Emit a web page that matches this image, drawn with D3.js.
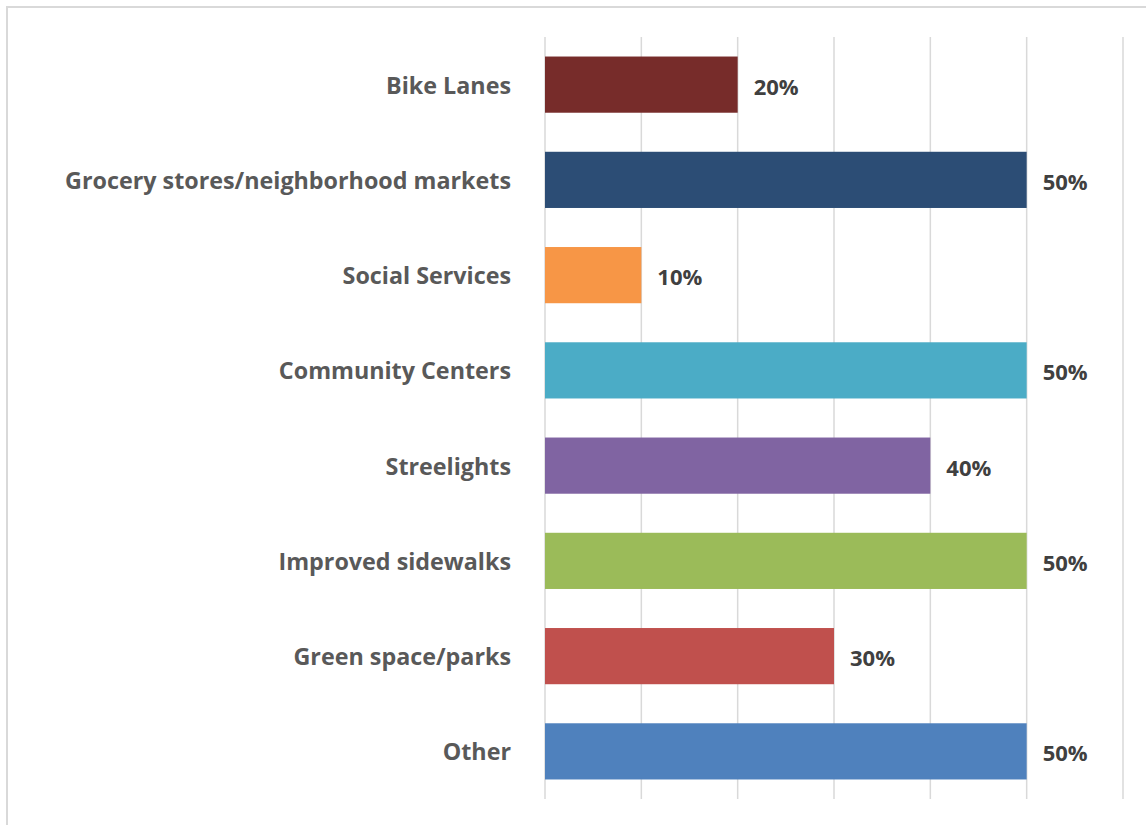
<!DOCTYPE html>
<html>
<head>
<meta charset="utf-8">
<script src="https://cdn.jsdelivr.net/npm/d3@7"></script>
<style>
  body { margin: 0; background: #fff; }
  svg { display: block; }
</style>
</head>
<body>
<svg id="chart" width="1146" height="825"></svg>
<script>
const categories = ["Bike Lanes", "Grocery stores/neighborhood markets", "Social Services",
  "Community Centers", "Streelights", "Improved sidewalks", "Green space/parks", "Other"];
const values = [20, 50, 10, 50, 40, 50, 30, 50];
const barColors = ["#772C2A", "#2C4D75", "#F79646", "#4BACC6", "#8064A2", "#9BBB59", "#C0504D", "#4F81BD"];
const xTicks = [0, 10, 20, 30, 40, 50, 60];

const svg = d3.select("#chart");

// outer frame (only top and left edges visible in the crop)
svg.append("rect")
  .attr("x", 7).attr("y", 7)
  .attr("width", 1160).attr("height", 840)
  .attr("fill", "none")
  .attr("stroke", "#d9d9d9")
  .attr("stroke-width", 2);

const x = d3.scaleLinear().domain([0, 60]).range([545, 1123]);
const y = d3.scaleBand().domain(categories).range([37, 799])
  .paddingInner(0.41).paddingOuter(0.205);

// gridlines
svg.append("g").selectAll("line")
  .data(xTicks)
  .enter().append("line")
  .attr("x1", d => x(d)).attr("x2", d => x(d))
  .attr("y1", 37).attr("y2", 799)
  .attr("stroke", "#d9d9d9")
  .attr("stroke-width", 1.5);

const data = categories.map((c, i) => ({ cat: c, value: values[i], color: barColors[i] }));

svg.append("g").selectAll("rect")
  .data(data)
  .enter().append("rect")
  .attr("x", x(0))
  .attr("y", d => y(d.cat))
  .attr("width", d => x(d.value) - x(0))
  .attr("height", y.bandwidth())
  .attr("fill", d => d.color);

// category labels
svg.append("g").selectAll("text")
  .data(data)
  .enter().append("text")
  .attr("x", 511)
  .attr("y", d => y(d.cat) + y.bandwidth() / 2)
  .attr("text-anchor", "end")
  .attr("dominant-baseline", "central")
  .attr("font-family", "'Open Sans', sans-serif")
  .attr("font-weight", "bold")
  .attr("font-size", 23.3)
  .attr("fill", "#595959")
  .text(d => d.cat);

// value labels
svg.append("g").selectAll("text")
  .data(data)
  .enter().append("text")
  .attr("x", d => x(d.value) + 16)
  .attr("y", d => y(d.cat) + y.bandwidth() / 2 + 1)
  .attr("dominant-baseline", "central")
  .attr("font-family", "'Open Sans', sans-serif")
  .attr("font-weight", "bold")
  .attr("font-size", 22)
  .attr("fill", "#404040")
  .text(d => d.value + "%");
</script>
</body>
</html>
